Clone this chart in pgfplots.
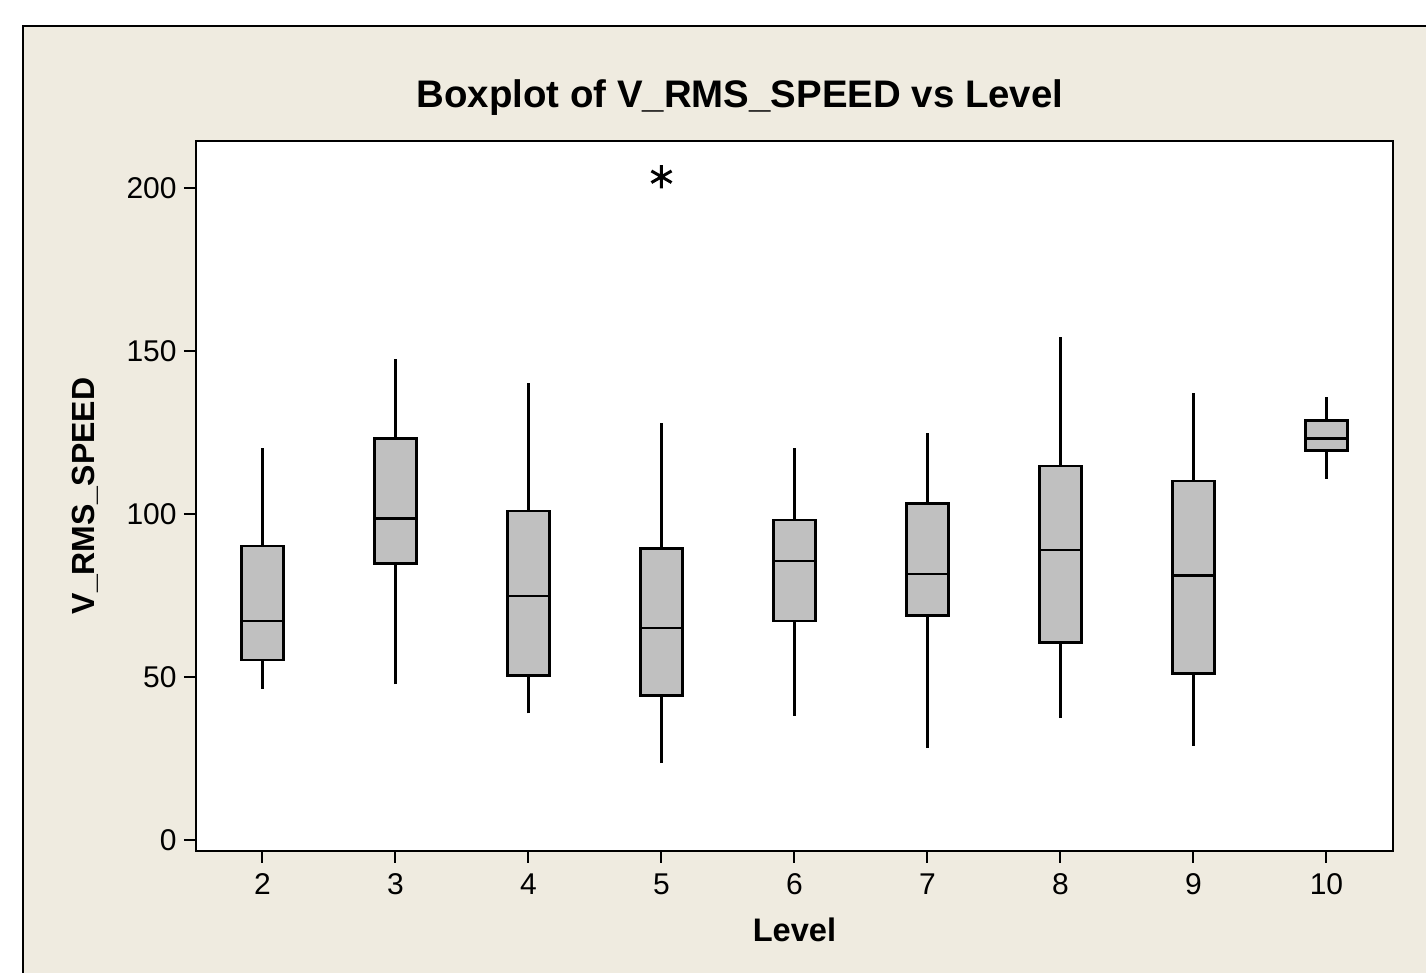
\documentclass[border=0pt]{standalone}
\usepackage{pgfplots}
\pgfplotsset{compat=1.18}
\usepackage{fontspec}
\setmainfont{Liberation Sans}
\definecolor{bg}{RGB}{239,235,224}
\definecolor{boxgray}{RGB}{192,192,192}
\pgfplotsset{
  whisk/.style={draw=black, line width=1.2pt, no marks, forget plot},
  boxst/.style={fill=boxgray, draw=black, line width=1.3pt, no marks, forget plot, line join=miter},
  medst/.style={draw=black, line width=1.3pt, no marks, forget plot},
}
\begin{document}
\begin{tikzpicture}
\path[use as bounding box] (0pt,0pt) rectangle (713pt,486.5pt);
\filldraw[fill=bg, draw=black, line width=0.8pt] (11.5pt,-10pt) rectangle (735pt,473.5pt);
\begin{axis}[
  at={(98pt,61pt)}, anchor=south west,
  scale only axis, width=598.5pt, height=355pt,
  xmin=1.5, xmax=10.5, ymin=-3.22, ymax=214.57,
  axis background/.style={fill=white},
  axis line style={line width=1.1pt},
  xtick={2,3,4,5,6,7,8,9,10},
  ytick={0,50,100,150,200},
  tick align=outside, xtick pos=bottom, ytick pos=left,
  major tick length=6pt,
  tick style={line width=1pt, black},
  /pgf/number format/assume math mode=true,
  ticklabel style={font=\fontsize{15}{18}\selectfont, inner sep=0pt},
  xticklabel style={anchor=north, yshift=-5pt},
  yticklabel style={anchor=east, xshift=-3.5pt},
  title={\textbf{Boxplot of V\_RMS\_SPEED vs Level}},
  title style={font=\fontsize{19.2}{23}\selectfont, at={(axis description cs:0.4545,1.0296)}, anchor=base, inner sep=0pt},
  xlabel={\textbf{Level}},
  xlabel style={font=\fontsize{16.3}{19}\selectfont, at={(axis description cs:0.5,-0.1268)}, anchor=base, inner sep=0pt},
  ylabel={\textbf{V\_RMS\_SPEED}},
  ylabel style={font=\fontsize{16}{19}\selectfont, at={(axis description cs:-0.0844,0.5)}, anchor=base, inner sep=0pt},
]
% Level 2: lw 46.6, Q1 55.4, med 67.3, Q3 90.3, uw 120.5
\addplot[whisk] coordinates {(2,46.6) (2,120.5)};
\addplot[boxst] coordinates {(1.84,55.4) (2.16,55.4) (2.16,90.3) (1.84,90.3)} -- cycle;
\addplot[medst] coordinates {(1.84,67.3) (2.16,67.3)};
% Level 3: lw 48.0, Q1 85.0, med 98.7, Q3 123.4, uw 147.7
\addplot[whisk] coordinates {(3,48.0) (3,147.7)};
\addplot[boxst] coordinates {(2.84,85.0) (3.16,85.0) (3.16,123.4) (2.84,123.4)} -- cycle;
\addplot[medst] coordinates {(2.84,98.7) (3.16,98.7)};
% Level 4: lw 39.0, Q1 50.6, med 75.0, Q3 101.1, uw 140.2
\addplot[whisk] coordinates {(4,39.0) (4,140.2)};
\addplot[boxst] coordinates {(3.84,50.6) (4.16,50.6) (4.16,101.1) (3.84,101.1)} -- cycle;
\addplot[medst] coordinates {(3.84,75.0) (4.16,75.0)};
% Level 5: lw 23.7, Q1 44.4, med 65.2, Q3 89.6, uw 128.2, outlier 203.6
\addplot[whisk] coordinates {(5,23.7) (5,128.2)};
\addplot[boxst] coordinates {(4.84,44.4) (5.16,44.4) (5.16,89.6) (4.84,89.6)} -- cycle;
\addplot[medst] coordinates {(4.84,65.2) (5.16,65.2)};
\addplot[only marks, mark=asterisk, mark size=5.8pt, mark options={line width=1.5pt, black}, forget plot] coordinates {(5,203.6)};
% Level 6: lw 38.2, Q1 67.3, med 85.7, Q3 98.3, uw 120.5
\addplot[whisk] coordinates {(6,38.2) (6,120.5)};
\addplot[boxst] coordinates {(5.84,67.3) (6.16,67.3) (6.16,98.3) (5.84,98.3)} -- cycle;
\addplot[medst] coordinates {(5.84,85.7) (6.16,85.7)};
% Level 7: lw 28.3, Q1 69.0, med 81.8, Q3 103.4, uw 124.9
\addplot[whisk] coordinates {(7,28.3) (7,124.9)};
\addplot[boxst] coordinates {(6.84,69.0) (7.16,69.0) (7.16,103.4) (6.84,103.4)} -- cycle;
\addplot[medst] coordinates {(6.84,81.8) (7.16,81.8)};
% Level 8: lw 37.5, Q1 60.7, med 89.1, Q3 114.9, uw 154.4
\addplot[whisk] coordinates {(8,37.5) (8,154.4)};
\addplot[boxst] coordinates {(7.84,60.7) (8.16,60.7) (8.16,114.9) (7.84,114.9)} -- cycle;
\addplot[medst] coordinates {(7.84,89.1) (8.16,89.1)};
% Level 9: lw 29.1, Q1 51.3, med 81.2, Q3 110.3, uw 137.4
\addplot[whisk] coordinates {(9,29.1) (9,137.4)};
\addplot[boxst] coordinates {(8.84,51.3) (9.16,51.3) (9.16,110.3) (8.84,110.3)} -- cycle;
\addplot[medst] coordinates {(8.84,81.2) (9.16,81.2)};
% Level 10: lw 110.9, Q1 119.6, med 123.4, Q3 128.9, uw 136.0
\addplot[whisk] coordinates {(10,110.9) (10,136.0)};
\addplot[boxst] coordinates {(9.84,119.6) (10.16,119.6) (10.16,128.9) (9.84,128.9)} -- cycle;
\addplot[medst] coordinates {(9.84,123.4) (10.16,123.4)};
\end{axis}
\end{tikzpicture}
\end{document}
